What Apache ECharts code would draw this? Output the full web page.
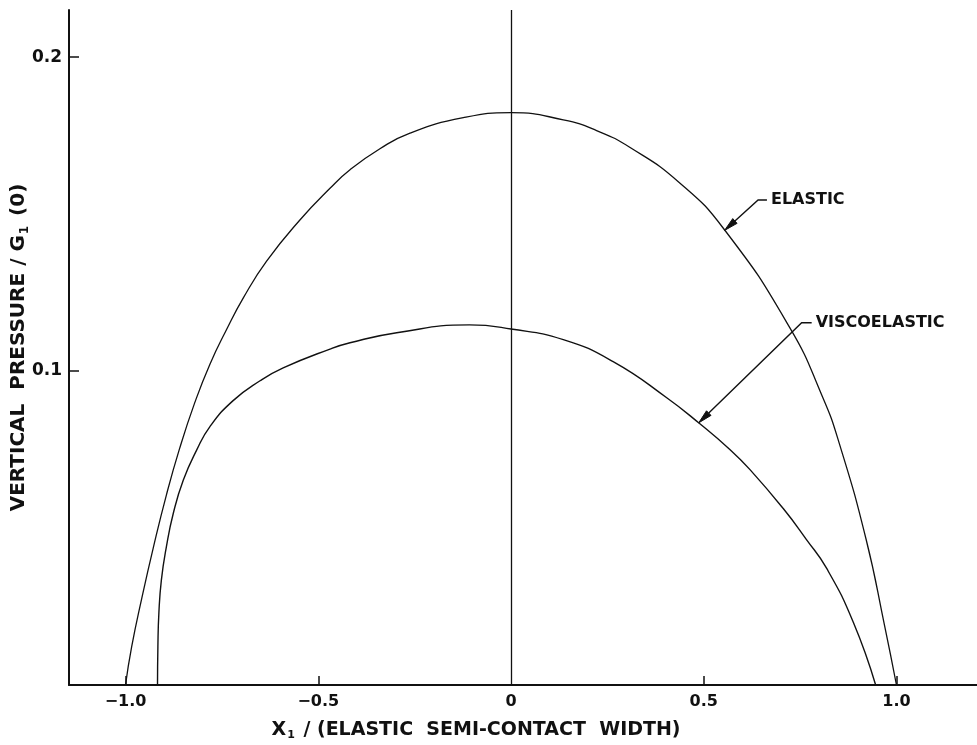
<!DOCTYPE html>
<html>
<head>
<meta charset="utf-8">
<script src="https://cdn.jsdelivr.net/npm/echarts@6/dist/echarts.min.js"></script>
<style>
  html, body { margin: 0; padding: 0; background: #fff; }
  #chart { width: 977px; height: 745px; }
</style>
</head>
<body>
<div id="chart"></div>
<script>
// Pressure distribution across the contact, normalised by G1(0)
const elasticX = [-1.0, -0.984, -0.958, -0.928, -0.894, -0.860, -0.821, -0.781, -0.7375, -0.694, -0.634, -0.547, -0.4695, -0.4176, -0.34, -0.262, -0.1237, 0, 0.1357, 0.222, 0.309, 0.437, 0.5538, 0.7224, 0.808, 0.852, 0.921, 0.969, 1.0];
const elasticY = [0, 0.0122, 0.0275, 0.0437, 0.0605, 0.0752, 0.0897, 0.1022, 0.1133, 0.1234, 0.1350, 0.1482, 0.1582, 0.1641, 0.1708, 0.1758, 0.1807, 0.1823, 0.1800, 0.1766, 0.1712, 0.1600, 0.1450, 0.1140, 0.0918, 0.0768, 0.0465, 0.0190, 0];

const viscoX = [-0.917, -0.916, -0.9135, -0.907, -0.894, -0.876, -0.85, -0.8155, -0.781, -0.7216, -0.651, -0.591, -0.4695, -0.4176, -0.2965, -0.108, 0, 0.1357, 0.265, 0.404, 0.49, 0.567, 0.62, 0.7063, 0.766, 0.8186, 0.888, 0.946];
const viscoY = [0, 0.0122, 0.0228, 0.0334, 0.044, 0.0547, 0.0653, 0.0748, 0.0823, 0.0905, 0.0969, 0.1010, 0.1070, 0.1090, 0.1122, 0.1147, 0.1134, 0.1100, 0.1030, 0.0915, 0.0832, 0.0751, 0.0686, 0.0562, 0.0464, 0.0372, 0.0200, 0];

// Tick values and their printed labels
const xTickValues = [-1, -0.5, 0, 0.5, 1];
const xTickLabels = ['\u22121.0', '\u22120.5', '0', '0.5', '1.0'];
const xTickMarks = [-1, -0.5, 0.5, 1];
const yTickValues = [0.1, 0.2];
const yTickLabels = ['0.1', '0.2'];

// Curve callouts: arrow tip on the curve, leader elbow, leader end (data units)
const calloutNames = ['ELASTIC', 'VISCOELASTIC'];
const calloutTip = [[0.554, 0.1448], [0.487, 0.0835]];
const calloutElbow = [[0.641, 0.1545], [0.754, 0.1154]];
const calloutEnd = [[0.664, 0.1545], [0.780, 0.1154]];

const FONT = '"DejaVu Sans", "Liberation Sans", sans-serif';
const INK = '#111';

const pairs = (xs, ys) => xs.map((x, i) => [x, ys[i]]);

const chart = echarts.init(document.getElementById('chart'), null, { renderer: 'canvas' });

chart.setOption({
  animation: false,
  backgroundColor: '#fff',
  grid: { left: 69, right: 0, top: 10, bottom: 60, containLabel: false, outerBoundsMode: 'none' },
  xAxis: {
    type: 'value',
    min: -1.1466,
    max: 1.2089,
    name: '{t|X}{s|1}{t| / (ELASTIC  SEMI-CONTACT  WIDTH)}',
    nameLocation: 'middle',
    nameGap: 34,
    nameTextStyle: {
      padding: [0, 94, 0, 0],
      rich: {
        t: { fontFamily: FONT, fontSize: 19, fontWeight: 'bold', color: INK },
        s: { fontFamily: FONT, fontSize: 11, fontWeight: 'bold', color: INK, padding: [11, 2, 0, 1] }
      }
    },
    axisLine: { show: true, onZero: false, lineStyle: { color: INK, width: 2 } },
    axisTick: { show: true, inside: true, length: 9, customValues: xTickMarks, lineStyle: { color: INK, width: 1.5 } },
    axisLabel: {
      customValues: xTickValues,
      margin: 9,
      fontFamily: FONT, fontSize: 16, fontWeight: 'bold', color: INK,
      formatter: v => xTickLabels[xTickValues.findIndex(t => Math.abs(t - v) < 1e-9)] || ''
    },
    splitLine: { show: false }
  },
  yAxis: {
    type: 'value',
    min: 0,
    max: 0.215,
    name: '{t|VERTICAL  PRESSURE / G}{s|1}{t| (0)}',
    nameLocation: 'middle',
    nameMoveOverlap: false,
    nameGap: 38,
    nameRotate: 90,
    nameTextStyle: {
      rich: {
        t: { fontFamily: FONT, fontSize: 20, fontWeight: 'bold', color: INK },
        s: { fontFamily: FONT, fontSize: 12, fontWeight: 'bold', color: INK, padding: [12, 3, 0, 1] }
      }
    },
    axisLine: { show: true, onZero: false, lineStyle: { color: INK, width: 2 } },
    axisTick: { show: true, inside: true, length: 10, customValues: yTickValues, lineStyle: { color: INK, width: 1.5 } },
    axisLabel: {
      customValues: yTickValues,
      margin: 7,
      fontFamily: FONT, fontSize: 17, fontWeight: 'bold', color: INK,
      formatter: v => yTickLabels[yTickValues.findIndex(t => Math.abs(t - v) < 1e-9)] || ''
    },
    splitLine: { show: false }
  },
  series: [
    {
      name: 'ELASTIC',
      type: 'line',
      data: pairs(elasticX, elasticY),
      smooth: 0.5,
      symbol: 'none',
      lineStyle: { color: INK, width: 1.3 },
      markLine: {
        silent: true,
        symbol: ['none', 'none'],
        label: { show: false },
        lineStyle: { color: INK, width: 1.3, type: 'solid' },
        data: [{ xAxis: 0 }]
      }
    },
    {
      name: 'VISCOELASTIC',
      type: 'line',
      data: pairs(viscoX, viscoY),
      smooth: 0.5,
      symbol: 'none',
      lineStyle: { color: INK, width: 1.4 }
    },
    {
      type: 'custom',
      silent: true,
      data: calloutNames.map((n, i) => ({
        name: n,
        value: [calloutTip[i][0], calloutTip[i][1], calloutElbow[i][0], calloutElbow[i][1], calloutEnd[i][0], calloutEnd[i][1]]
      })),
      renderItem: function (params, api) {
        const tip = api.coord([api.value(0), api.value(1)]);
        const elbow = api.coord([api.value(2), api.value(3)]);
        const end = api.coord([api.value(4), api.value(5)]);
        const dx = tip[0] - elbow[0], dy = tip[1] - elbow[1];
        const len = Math.sqrt(dx * dx + dy * dy);
        const ux = dx / len, uy = dy / len;
        const L = 14, W = 3.2;
        const base = [tip[0] - ux * L, tip[1] - uy * L];
        const nx = -uy, ny = ux;
        return {
          type: 'group',
          children: [
            {
              type: 'polyline',
              shape: { points: [end, elbow, base] },
              style: { stroke: INK, lineWidth: 1.4, fill: null }
            },
            {
              type: 'polygon',
              shape: { points: [tip, [base[0] + nx * W, base[1] + ny * W], [base[0] - nx * W, base[1] - ny * W]] },
              style: { fill: INK, stroke: INK, lineWidth: 1 }
            },
            {
              type: 'text',
              x: end[0] + 4,
              y: end[1],
              style: {
                text: calloutNames[params.dataIndex],
                fontFamily: FONT, fontSize: 16, fontWeight: 'bold',
                fill: INK, verticalAlign: 'middle', align: 'left'
              }
            }
          ]
        };
      }
    }
  ]
});
</script>
</body>
</html>
